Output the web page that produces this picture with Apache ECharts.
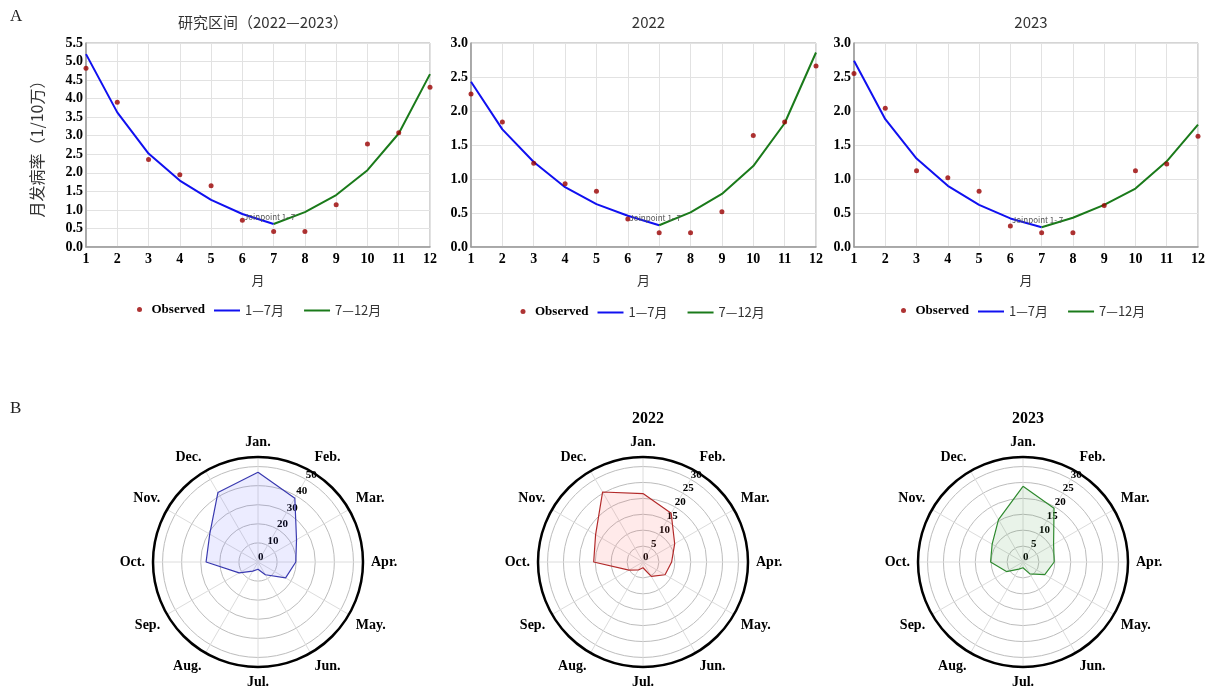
<!DOCTYPE html>
<html>
<head>
<meta charset="utf-8">
<script src="https://cdn.jsdelivr.net/npm/echarts@6/dist/echarts.min.js"></script>
<style>
html,body{margin:0;padding:0;background:#fff;}
#main{width:1211px;height:688px;}
</style>
</head>
<body>
<div id="main"></div>
<script>
// ---- 数据 ----
var months = ['1','2','3','4','5','6','7','8','9','10','11','12'];
var monthNames = ['Jan.','Feb.','Mar.','Apr.','May.','Jun.','Jul.','Aug.','Sep.','Oct.','Nov.','Dec.'];

// A: 研究区间（2022—2023）
var obsAll  = [4.82, 3.90, 2.36, 1.95, 1.65, 0.72, 0.42, 0.42, 1.14, 2.78, 3.08, 4.31];
var fitAll1 = [5.20, 3.63, 2.52, 1.79, 1.27, 0.89, 0.62, null, null, null, null, null];
var fitAll2 = [null, null, null, null, null, null, 0.62, 0.94, 1.40, 2.07, 3.06, 4.66];
// A: 2022
var obs22  = [2.25, 1.84, 1.23, 0.93, 0.82, 0.41, 0.21, 0.21, 0.52, 1.64, 1.84, 2.66];
var fit221 = [2.43, 1.73, 1.25, 0.88, 0.63, 0.46, 0.32, null, null, null, null, null];
var fit222 = [null, null, null, null, null, null, 0.32, 0.51, 0.78, 1.19, 1.82, 2.86];
// A: 2023
var obs23  = [2.55, 2.04, 1.12, 1.02, 0.82, 0.31, 0.21, 0.21, 0.61, 1.12, 1.22, 1.63];
var fit231 = [2.74, 1.88, 1.30, 0.90, 0.62, 0.42, 0.29, null, null, null, null, null];
var fit232 = [null, null, null, null, null, null, 0.29, 0.43, 0.62, 0.86, 1.26, 1.80];

// B: 各月分布（极坐标）
var radarAll = [47, 38.6, 23.3, 19.8, 16.7, 7.7, 3.8, 5.5, 11.4, 27.2, 29.2, 42];
var radar22  = [21.5, 17.7, 11.5, 9.0, 8.0, 5.2, 1.8, 2.9, 5.1, 15.5, 17.2, 25.4];
var radar23  = [23.8, 19.5, 11.1, 9.8, 7.9, 4.3, 1.8, 2.6, 6.0, 10.2, 11.2, 15.4];

var SERIF = "'Liberation Serif','Times New Roman',serif";
var SANS = "'Noto Sans CJK SC','Noto Sans',sans-serif";

var chart = echarts.init(document.getElementById('main'));

// 三个折线图的位置
var grids = [
    {left: 86,  top: 43, width: 344, height: 204},
    {left: 471, top: 43, width: 345, height: 204},
    {left: 854, top: 43, width: 344, height: 204}
];
var titlesA = ['研究区间（2022—2023）', '2022', '2023'];
var yMax = [5.5, 3.0, 3.0];
var obsList = [obsAll, obs22, obs23];
var fit1List = [fitAll1, fit221, fit231];
var fit2List = [fitAll2, fit222, fit232];
var legendY = [303, 305, 304];
var legendDx = [0, -2, -4];

// 极坐标
var polarCenters = [[258, 562], [643, 562], [1023, 562]];
var radarList = [radarAll, radar22, radar23];
var radarMax = [55, 33, 33];
var radarStep = [10, 5, 5];
var radarLine = ['#3a3ab0', '#b22a2a', '#2f8a2f'];
var radarFill = ['rgba(90,90,255,0.16)', 'rgba(255,90,90,0.18)', 'rgba(60,150,60,0.16)'];

var option = {
    animation: false,
    backgroundColor: '#fff',
    title: [],
    legend: [],
    grid: [],
    xAxis: [],
    yAxis: [],
    polar: [],
    angleAxis: [],
    radiusAxis: [],
    series: [],
    graphic: [
        {type: 'text', left: 10, top: 8, style: {text: 'A', font: '17px ' + SERIF, fill: '#222'}},
        {type: 'text', left: 10, top: 400, style: {text: 'B', font: '17px ' + SERIF, fill: '#222'}}
    ]
};

for (var g = 0; g < 3; g++) {
    var gr = grids[g];
    var cx = gr.left + gr.width / 2;
    option.grid.push({
        left: gr.left, top: gr.top, width: gr.width, height: gr.height,
        show: true, borderColor: '#aaa', borderWidth: 1, backgroundColor: '#fff'
    });
    option.title.push({
        text: titlesA[g], left: cx, top: 10, textAlign: 'center',
        textStyle: {fontFamily: SANS, fontSize: 15, fontWeight: 'normal', color: '#333'}
    });
    option.xAxis.push({
        type: 'category', gridIndex: g, data: months, boundaryGap: false,
        name: '月', nameLocation: 'middle', nameGap: 27,
        nameTextStyle: {fontFamily: SANS, fontSize: 13, color: '#333'},
        axisLine: {lineStyle: {color: '#999', width: 1.5}},
        axisTick: {show: false},
        axisLabel: {fontFamily: SERIF, fontWeight: 'bold', fontSize: 14, color: '#000', margin: 5},
        splitLine: {show: true, lineStyle: {color: '#e2e2e2'}}
    });
    option.yAxis.push({
        type: 'value', gridIndex: g, min: 0, max: yMax[g], interval: 0.5,
        name: g === 0 ? '月发病率（1/10万）' : '', nameLocation: 'middle', nameGap: 41, nameRotate: 90,
        nameTextStyle: {fontFamily: SANS, fontSize: 16, color: '#333'},
        axisLine: {show: true, lineStyle: {color: '#999', width: 1.5}},
        axisTick: {show: false},
        axisLabel: {fontFamily: SERIF, fontWeight: 'bold', fontSize: 14, color: '#000', margin: 3,
            formatter: function (v) { return v.toFixed(1); }},
        splitLine: {show: true, lineStyle: {color: '#e2e2e2'}}
    });
    option.series.push({
        name: 'Observed', type: 'scatter', xAxisIndex: g, yAxisIndex: g,
        data: obsList[g], symbolSize: 5, itemStyle: {color: '#9a0000'}, z: 4
    });
    option.series.push({
        name: '1—7月', type: 'line', xAxisIndex: g, yAxisIndex: g,
        data: fit1List[g], symbol: 'none', lineStyle: {color: '#1010f0', width: 2}, itemStyle: {color: '#1010f0'},
        markPoint: {
            symbol: 'circle', symbolSize: 0,
            data: [{coord: ['7', fit1List[g][6]]}],
            label: {show: true, formatter: 'Joinpoint 1- 7', position: 'inside', offset: [-4, -7],
                fontFamily: SANS, fontSize: 8, color: '#555'}
        }
    });
    option.series.push({
        name: '7—12月', type: 'line', xAxisIndex: g, yAxisIndex: g,
        data: fit2List[g], symbol: 'none', lineStyle: {color: '#1a7a1a', width: 2}, itemStyle: {color: '#1a7a1a'}
    });
    // 图例：散点（宽框里画小圆点，拉开文字间距） + 两段折线
    option.legend.push({
        data: ['Observed'], left: cx - 121 + legendDx[g], top: legendY[g], padding: 0,
        itemWidth: 14, itemHeight: 5, itemGap: 10,
        textStyle: {fontFamily: SERIF, fontWeight: 'bold', fontSize: 13, color: '#000'}
    });
    option.legend.push({
        data: [{name: '1—7月', icon: 'rect'}, {name: '7—12月', icon: 'rect'}],
        left: cx - 44 + legendDx[g], top: legendY[g] + 1, padding: 0,
        itemWidth: 26, itemHeight: 2, itemGap: 20,
        textStyle: {fontFamily: SANS, fontSize: 13, color: '#333'}
    });
}

for (var p = 0; p < 3; p++) {
    var c = polarCenters[p];
    option.polar.push({center: c, radius: [0, 105]});
    option.angleAxis.push({
        type: 'value', polarIndex: p, min: 0, max: 12, interval: 1,
        startAngle: 90, clockwise: true,
        axisLine: {lineStyle: {color: '#000', width: 2.5}},
        axisTick: {show: false},
        axisLabel: {margin: 8, fontFamily: SERIF, fontWeight: 'bold', fontSize: 14, color: '#000',
            formatter: function (v) { return monthNames[v] || ''; }},
        splitLine: {show: true, lineStyle: {color: '#dcdcdc', width: 1}}
    });
    option.radiusAxis.push({
        type: 'value', polarIndex: p, min: 0, max: radarMax[p], interval: radarStep[p],
        axisLine: {show: false},
        axisTick: {show: false},
        axisLabel: {show: false},
        splitLine: {show: true, lineStyle: {color: '#bdbdbd', width: 1}}
    });
    if (p > 0) {
        option.title.push({
            text: p === 1 ? '2022' : '2023', left: c[0], top: 406, textAlign: 'center',
            textStyle: {fontFamily: SERIF, fontSize: 16, fontWeight: 'bold', color: '#000'}
        });
    }
    // 首尾相连闭合
    var vals = radarList[p];
    var pts = vals.concat([vals[0]]).map(function (v, i) { return [v, i]; });
    option.series.push({
        type: 'line', coordinateSystem: 'polar', polarIndex: p,
        data: pts, symbol: 'none',
        lineStyle: {color: radarLine[p], width: 1.2},
        areaStyle: {color: radarFill[p]}
    });
}

// 半径刻度标签：另一组重叠的极坐标，沿 Feb. 方向
for (var q = 0; q < 3; q++) {
    option.polar.push({center: polarCenters[q], radius: [0, 105]});
    option.angleAxis.push({
        type: 'value', polarIndex: 3 + q, min: 0, max: 12, startAngle: 60, clockwise: true, show: false
    });
    option.radiusAxis.push({
        type: 'value', polarIndex: 3 + q, min: 0, max: radarMax[q], interval: radarStep[q],
        axisLine: {show: false},
        axisTick: {show: false},
        splitLine: {show: false},
        axisLabel: {showMaxLabel: false, fontFamily: SERIF, fontWeight: 'bold', fontSize: 11, color: '#000',
            margin: 0, align: 'left', verticalAlign: 'bottom', lineHeight: 9}
    });
}

chart.setOption(option);
</script>
</body>
</html>
